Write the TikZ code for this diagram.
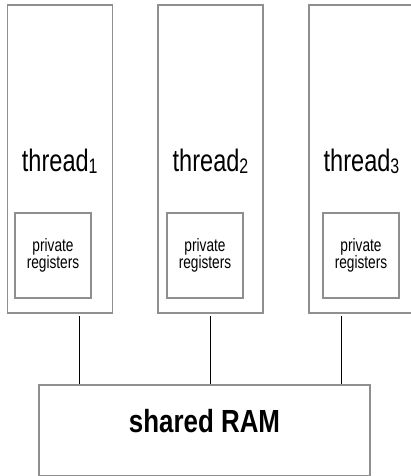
\documentclass[tikz,border=0pt]{standalone}
\usepackage{fontspec}
\setmainfont{Liberation Sans}
\newfontfamily\narrowsf[FakeStretch=0.76]{Liberation Sans}
\newfontfamily\ramsf[FakeStretch=0.81]{Liberation Sans}
\definecolor{boxgray}{gray}{0.56}

\tikzset{
  thread/.style={draw=boxgray, line width=1.4pt, inner sep=0pt,
    minimum width=105pt, minimum height=308pt,
    font=\narrowsf\fontsize{31}{31}\selectfont, text height=24pt, text depth=0pt},
  regs/.style={draw=boxgray, line width=1.2pt, inner sep=0pt,
    minimum width=76pt, minimum height=85pt, align=center,
    font=\narrowsf\fontsize{18}{17}\selectfont},
  ram/.style={draw=boxgray, line width=1.4pt, inner sep=0pt,
    minimum width=331pt, minimum height=91pt,
    font=\ramsf\bfseries\fontsize{32}{32}\selectfont, text height=23pt, text depth=20pt},
  link/.style={black, line width=1pt}
}
\newcommand{\tsub}[1]{\raisebox{-2pt}{\fontsize{21}{21}\selectfont #1}}

\begin{document}
\begin{tikzpicture}[x=1pt,y=-1pt]
  \useasboundingbox (0,0) rectangle (411,476);

  % threads
  \node[thread] (t1) at (59.75,159) {thread\tsub{1}};
  \node[thread] (t2) at (210.5,159) {thread\tsub{2}};
  \node[thread] (t3) at (361.5,159) {thread\tsub{3}};

  % private registers
  \node[regs] (r1) at (53,255.5) {private\\registers};
  \node[regs] (r2) at (205,255.5) {private\\registers};
  \node[regs] (r3) at (361,255.5) {private\\registers};

  \node[ram] (ram) at (204.5,430.5) {shared RAM};

  \draw[link] ([xshift=19.5pt,yshift=-2pt]t1.south) -- ([xshift=19.5pt]t1.south |- ram.north);
  \draw[link] ([xshift=-0.5pt,yshift=-2pt]t2.south) -- ([xshift=-0.5pt]t2.south |- ram.north);
  \draw[link] ([xshift=-20.5pt,yshift=-2pt]t3.south) -- ([xshift=-20.5pt]t3.south |- ram.north);
\end{tikzpicture}
\end{document}
